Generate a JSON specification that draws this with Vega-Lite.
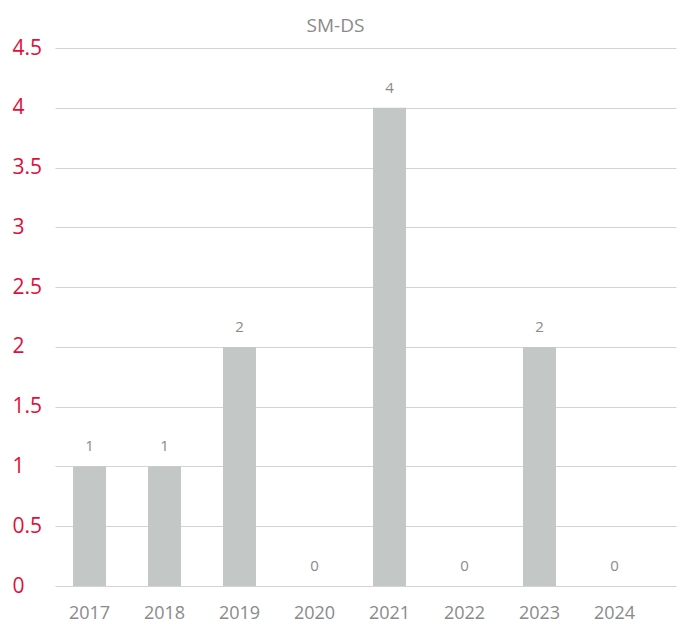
{
  "$schema": "https://vega.github.io/schema/vega-lite/v6.json",
  "width": 621,
  "height": 538,
  "autosize": {"type": "none"},
  "padding": {"left": 55, "top": 48, "right": 6, "bottom": 40},
  "background": "white",
  "config": {"view": {"stroke": null}, "font": "Open Sans"},
  "title": {
    "text": "SM-DS",
    "fontSize": 19,
    "fontWeight": "normal",
    "color": "#8a8a8a",
    "anchor": "middle",
    "dx": -30,
    "dy": 24,
    "offset": 10,
    "baseline": "alphabetic"
  },
  "data": {
    "values": [
      {"year": "2017", "value": 1},
      {"year": "2018", "value": 1},
      {"year": "2019", "value": 2},
      {"year": "2020", "value": 0},
      {"year": "2021", "value": 4},
      {"year": "2022", "value": 0},
      {"year": "2023", "value": 2},
      {"year": "2024", "value": 0}
    ]
  },
  "encoding": {
    "x": {
      "field": "year",
      "type": "ordinal",
      "scale": {"paddingInner": 0.56, "paddingOuter": 0.42, "align": 0.286},
      "axis": {
        "title": null,
        "labelAngle": 0,
        "domain": false,
        "ticks": false,
        "labelPadding": 18,
        "labelFontSize": 18,
        "labelColor": "#8a8a8a",
        "labelBaseline": "top"
      }
    },
    "y": {
      "field": "value",
      "type": "quantitative",
      "scale": {"domain": [0, 4.5], "nice": false},
      "axis": {
        "title": null,
        "values": [0, 0.5, 1, 1.5, 2, 2.5, 3, 3.5, 4, 4.5],
        "format": "~g",
        "domain": false,
        "ticks": false,
        "labelAlign": "left",
        "labelPadding": 43,
        "labelFontSize": 21,
        "labelFontWeight": 500,
        "labelColor": "#e0103a",
        "gridColor": "#d3d3d3",
        "gridWidth": 1
      }
    }
  },
  "layer": [
    {"mark": {"type": "bar", "color": "#c3c8c7"}},
    {
      "mark": {"type": "text", "baseline": "bottom", "dy": -12, "fontSize": 15, "color": "#8a8a8a"},
      "encoding": {"text": {"field": "value", "type": "quantitative"}}
    }
  ]
}
